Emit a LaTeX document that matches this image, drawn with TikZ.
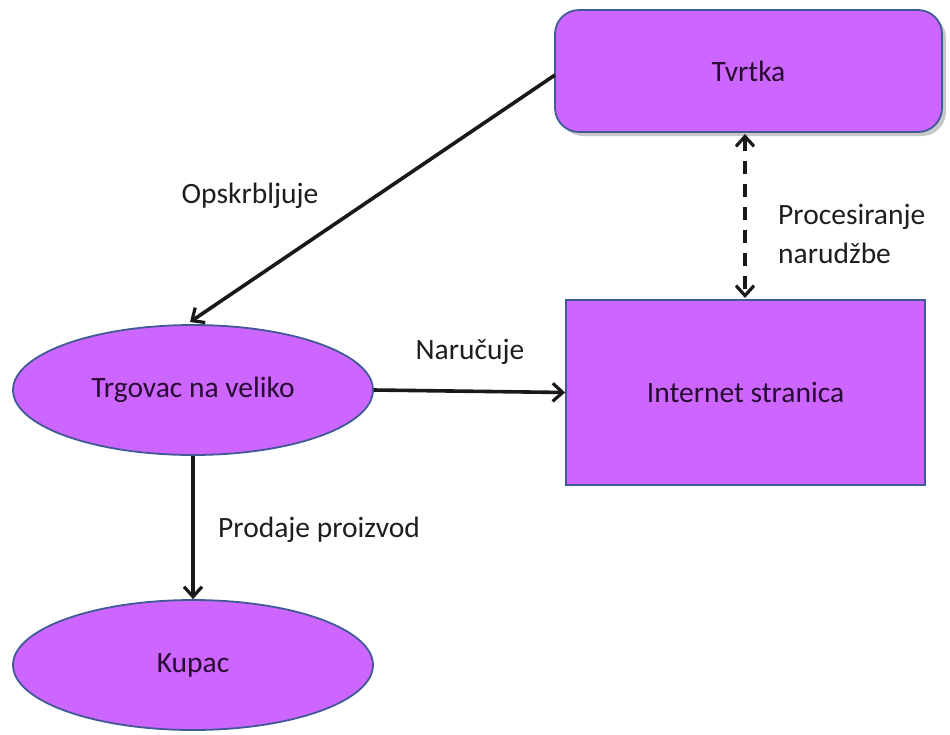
\documentclass[tikz,border=0pt]{standalone}
\usepackage{fontspec}
\setmainfont{Carlito}
\usetikzlibrary{arrows.meta,shapes.geometric}
\definecolor{nodefill}{RGB}{204,102,255}
\definecolor{nodeborder}{RGB}{65,90,150}
\definecolor{nodetext}{RGB}{40,10,50}
\definecolor{labeltext}{RGB}{30,30,30}
\tikzset{
  box/.style={draw=nodeborder, line width=1.8pt, fill=nodefill, text=nodetext, font=\fontsize{29.5}{34}\selectfont, inner sep=0pt},
  oval/.style={box, ellipse, minimum width=360pt, minimum height=130pt},
  tip/.style={Straight Barb[length=10pt,width=18pt,line width=3.2pt]},
  conn/.style={line width=3.6pt, black!90, -{Straight Barb[length=10pt,width=18pt,line width=3.2pt]}},
  lbl/.style={text=labeltext, font=\fontsize{29.5}{34}\selectfont, inner sep=0pt},
}
\begin{document}
\begin{tikzpicture}[x=1pt,y=-1pt]
\useasboundingbox (0,0) rectangle (950,734);
% shadow for Tvrtka
\fill[black!22, rounded corners=24pt] (559,14) rectangle (946,136);
\node[box, rounded corners=24pt, minimum width=387pt, minimum height=122pt] (tv) at (748.5,71) {Tvrtka};
\node[box, minimum width=359pt, minimum height=185pt] (is) at (745.5,392.5) {Internet stranica};
\node[oval] (tr) at (193,390) {Trgovac na veliko};
\node[oval] (ku) at (193,665) {Kupac};

\coordinate (a1) at (555,75);
\coordinate (a2) at (190,322);
\draw[conn] (a1) -- (a2);
\node[lbl] (l1) at (250,196) {Opskrbljuje};

\draw[line width=3.8pt, black!90, dash pattern=on 13pt off 10pt, {Straight Barb[length=10pt,width=18pt,line width=3.2pt]}-{Straight Barb[length=10pt,width=18pt,line width=3.2pt]}] (745,134) -- (745,298);
\node[lbl, anchor=west] (l2) at (778,217) {Procesiranje};
\node[lbl, anchor=west] (l3) at (778,253) {narudžbe};

\draw[conn] (tr.east) -- (is.west);
\node[lbl] (l4) at (470,352) {Naručuje};

\draw[conn] (tr.south) -- (ku.north);
\node[lbl, anchor=west] (l5) at (218,530) {Prodaje proizvod};
\end{tikzpicture}
\end{document}
